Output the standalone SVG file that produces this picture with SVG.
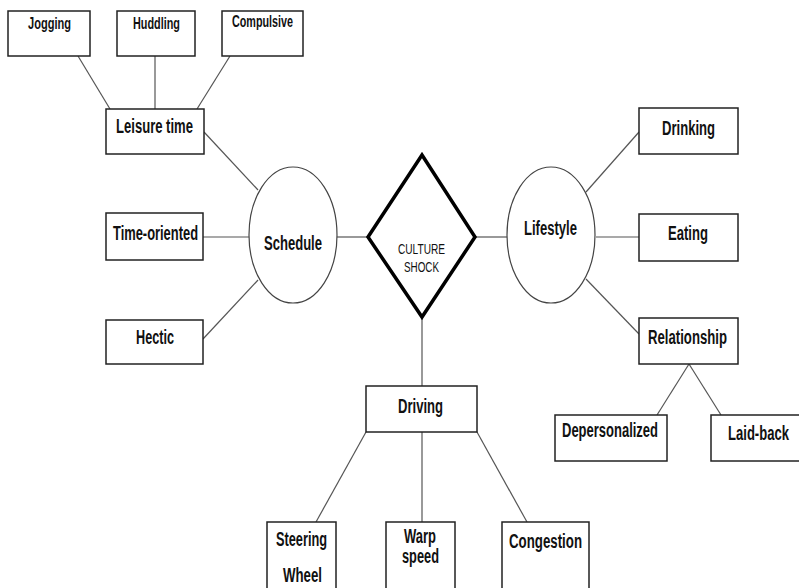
<svg xmlns="http://www.w3.org/2000/svg" width="799" height="588" viewBox="0 0 799 588">
<style>
.box{fill:#fff;stroke:#222;stroke-width:1.5}
.ell{fill:#fff;stroke:#444;stroke-width:1.2}
.dia{fill:#fff;stroke:#000;stroke-width:3.5}
.t{font-family:"Liberation Sans",Arial,sans-serif;font-weight:bold;font-size:20px;fill:#111;text-anchor:middle}
.s{font-size:16px}
.c{font-weight:normal;font-size:15px}
.con line{stroke:#555;stroke-width:1.2}
</style>
<rect width="799" height="588" fill="#fff"/>
<g id="connectors" class="con">
<line x1="78" y1="56" x2="110" y2="109"/>
<line x1="155" y1="56" x2="155" y2="109"/>
<line x1="230" y1="56" x2="197" y2="109"/>
<line x1="204" y1="132" x2="258" y2="190"/>
<line x1="203" y1="237" x2="249" y2="237"/>
<line x1="203" y1="339" x2="258" y2="280"/>
<line x1="337" y1="237" x2="368" y2="237"/>
<line x1="475" y1="237" x2="507" y2="237"/>
<line x1="586" y1="192" x2="639" y2="132"/>
<line x1="596" y1="237" x2="639" y2="237"/>
<line x1="586" y1="279" x2="639" y2="334"/>
<line x1="689" y1="364" x2="657" y2="415"/>
<line x1="689" y1="364" x2="721" y2="415"/>
<line x1="422" y1="317" x2="422" y2="386"/>
<line x1="366" y1="432" x2="316" y2="522"/>
<line x1="422" y1="432" x2="422" y2="522"/>
<line x1="477" y1="432" x2="527" y2="522"/>
</g>
<g id="jogging"><rect class="box" x="8" y="11" width="82" height="45"/><text class="t s" x="49.5" y="29" textLength="43" lengthAdjust="spacingAndGlyphs">Jogging</text></g>
<g id="huddling"><rect class="box" x="117" y="11" width="78" height="45"/><text class="t s" x="156.5" y="29" textLength="47" lengthAdjust="spacingAndGlyphs">Huddling</text></g>
<g id="compulsive"><rect class="box" x="222" y="11" width="81" height="45"/><text class="t s" x="262.5" y="27" textLength="61" lengthAdjust="spacingAndGlyphs">Compulsive</text></g>
<g id="leisure"><rect class="box" x="106" y="109" width="98" height="45"/><text class="t" x="154.5" y="133" font-size="21" textLength="77" lengthAdjust="spacingAndGlyphs">Leisure time</text></g>
<g id="timeoriented"><rect class="box" x="106" y="213" width="97" height="47"/><text class="t" x="155.5" y="240" font-size="19" textLength="85" lengthAdjust="spacingAndGlyphs">Time-oriented</text></g>
<g id="hectic"><rect class="box" x="106" y="320" width="97" height="44"/><text class="t" x="155" y="344" font-size="18" textLength="38" lengthAdjust="spacingAndGlyphs">Hectic</text></g>
<g id="schedule"><ellipse class="ell" cx="293" cy="235" rx="44" ry="68"/><text class="t" x="293" y="250" font-size="19.5" textLength="58" lengthAdjust="spacingAndGlyphs">Schedule</text></g>
<g id="cultureshock"><polygon class="dia" points="422,155 475,237 422,317 368,237"/><text class="t c" x="421.5" y="254" textLength="47" lengthAdjust="spacingAndGlyphs">CULTURE</text><text class="t c" x="421.5" y="272" textLength="35" lengthAdjust="spacingAndGlyphs">SHOCK</text></g>
<g id="lifestyle"><ellipse class="ell" cx="551" cy="235" rx="44" ry="68"/><text class="t" x="550.5" y="235" font-size="21" textLength="53" lengthAdjust="spacingAndGlyphs">Lifestyle</text></g>
<g id="drinking"><rect class="box" x="639" y="108" width="99" height="46"/><text class="t" x="688.5" y="135" textLength="53" lengthAdjust="spacingAndGlyphs">Drinking</text></g>
<g id="eating"><rect class="box" x="639" y="214" width="99" height="47"/><text class="t" x="688" y="240" textLength="40" lengthAdjust="spacingAndGlyphs">Eating</text></g>
<g id="relationship"><rect class="box" x="639" y="318" width="99" height="46"/><text class="t" x="687.5" y="344" textLength="79" lengthAdjust="spacingAndGlyphs">Relationship</text></g>
<g id="depersonalized"><rect class="box" x="555" y="415" width="112" height="46"/><text class="t" x="610" y="437" font-size="19" textLength="96" lengthAdjust="spacingAndGlyphs">Depersonalized</text></g>
<g id="laidback"><rect class="box" x="711" y="415" width="92" height="46"/><text class="t" x="758.5" y="440" textLength="61" lengthAdjust="spacingAndGlyphs">Laid-back</text></g>
<g id="driving"><rect class="box" x="366" y="386" width="111" height="46"/><text class="t" x="420.5" y="413" font-size="19" textLength="45" lengthAdjust="spacingAndGlyphs">Driving</text></g>
<g id="steering"><rect class="box" x="267" y="522" width="69" height="70"/><text class="t" x="301.5" y="546" textLength="51" lengthAdjust="spacingAndGlyphs">Steering</text><text class="t" x="302.5" y="582" textLength="39" lengthAdjust="spacingAndGlyphs">Wheel</text></g>
<g id="warp"><rect class="box" x="386" y="522" width="69" height="70"/><text class="t" x="420" y="543" font-size="17.5" textLength="32" lengthAdjust="spacingAndGlyphs">Warp</text><text class="t" x="420.5" y="563" font-size="17.5" textLength="37" lengthAdjust="spacingAndGlyphs">speed</text></g>
<g id="congestion"><rect class="box" x="502" y="522" width="87" height="70"/><text class="t" x="545.5" y="548" font-size="19" textLength="73" lengthAdjust="spacingAndGlyphs">Congestion</text></g>
</svg>
